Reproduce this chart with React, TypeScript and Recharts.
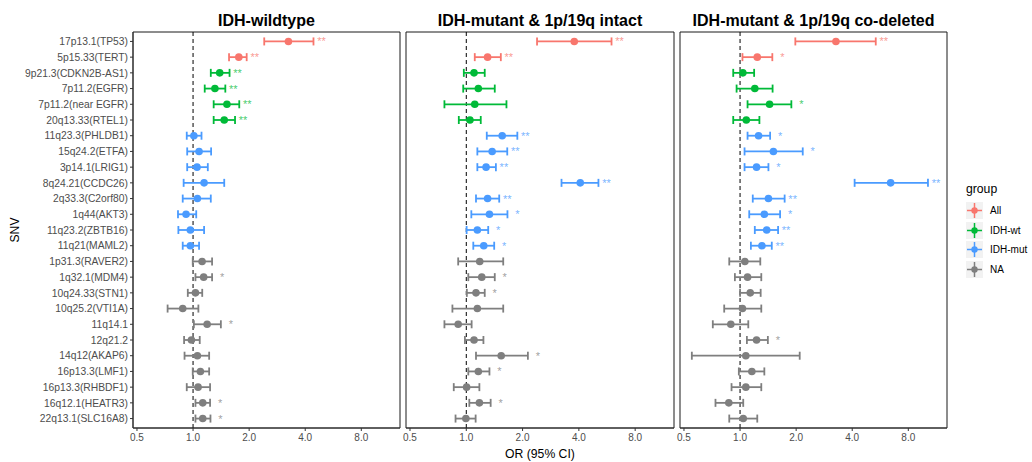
import { ErrorBar, ReferenceArea, ReferenceLine, Scatter, ScatterChart, XAxis, YAxis } from "recharts";

const snvs = [
  "17p13.1(TP53)", "5p15.33(TERT)", "9p21.3(CDKN2B-AS1)", "7p11.2(EGFR)", "7p11.2(near EGFR)",
  "20q13.33(RTEL1)", "11q23.3(PHLDB1)", "15q24.2(ETFA)", "3p14.1(LRIG1)", "8q24.21(CCDC26)",
  "2q33.3(C2orf80)", "1q44(AKT3)", "11q23.2(ZBTB16)", "11q21(MAML2)", "1p31.3(RAVER2)",
  "1q32.1(MDM4)", "10q24.33(STN1)", "10q25.2(VTI1A)", "11q14.1", "12q21.2",
  "14q12(AKAP6)", "16p13.3(LMF1)", "16p13.3(RHBDF1)", "16q12.1(HEATR3)", "22q13.1(SLC16A8)",
];

const rowGroup = [
  "All", "All", "IDH-wt", "IDH-wt", "IDH-wt", "IDH-wt",
  "IDH-mut", "IDH-mut", "IDH-mut", "IDH-mut", "IDH-mut", "IDH-mut", "IDH-mut", "IDH-mut",
  "NA", "NA", "NA", "NA", "NA", "NA", "NA", "NA", "NA", "NA", "NA",
];

const groupNames = ["All", "IDH-wt", "IDH-mut", "NA"];
const groupColors: Record<string, string> = {
  All: "#F8766D",
  "IDH-wt": "#00BA38",
  "IDH-mut": "#4A9BFF",
  NA: "#7F7F7F",
};

// IDH-wildtype
const wtOR = [3.25, 1.76, 1.39, 1.31, 1.52, 1.47, 1.01, 1.077, 1.05, 1.146, 1.055, 0.917, 0.967, 0.967, 1.118, 1.14, 1.03, 0.88, 1.19, 0.98, 1.055, 1.095, 1.064, 1.127, 1.127];
const wtLow = [2.41, 1.56, 1.245, 1.155, 1.29, 1.29, 0.925, 0.93, 0.93, 0.89, 0.88, 0.83, 0.834, 0.88, 0.996, 1.03, 0.937, 0.73, 1.01, 0.895, 0.9, 0.996, 0.925, 1.03, 1.03];
const wtHigh = [4.43, 1.94, 1.57, 1.49, 1.77, 1.68, 1.11, 1.25, 1.2, 1.47, 1.245, 1.04, 1.146, 1.077, 1.265, 1.265, 1.12, 1.068, 1.41, 1.086, 1.22, 1.22, 1.234, 1.234, 1.24];
const wtSig = ["**", "**", "**", "**", "**", "**", "", "", "", "", "", "", "", "", "", "*", "", "", "*", "", "", "", "", "*", "*"];

// IDH-mutant & 1p/19q intact
const intactOR = [3.78, 1.3, 1.1, 1.16, 1.11, 1.046, 1.556, 1.375, 1.276, 4.07, 1.3, 1.33, 1.146, 1.24, 1.18, 1.21, 1.127, 1.146, 0.905, 1.1, 1.537, 1.16, 1.004, 1.175, 0.995];
const intactLow = [2.39, 1.11, 0.97, 0.963, 0.764, 0.912, 1.287, 1.146, 1.146, 3.23, 1.127, 1.064, 1.004, 1.09, 0.905, 1.025, 1.007, 0.843, 0.764, 0.983, 1.127, 1.025, 0.857, 1.038, 0.876];
const intactHigh = [5.98, 1.53, 1.255, 1.42, 1.64, 1.195, 1.875, 1.656, 1.44, 5.09, 1.5, 1.66, 1.31, 1.41, 1.576, 1.42, 1.255, 1.576, 1.068, 1.235, 2.135, 1.33, 1.175, 1.35, 1.122];
const intactSig = ["**", "**", "", "", "", "", "**", "**", "**", "**", "**", "*", "*", "*", "", "*", "*", "", "", "", "*", "*", "", "*", ""];

// IDH-mutant & 1p/19q co-deleted
const codelOR = [3.27, 1.237, 1.035, 1.2, 1.44, 1.08, 1.257, 1.51, 1.226, 6.43, 1.42, 1.35, 1.39, 1.31, 1.061, 1.097, 1.134, 1.03, 0.892, 1.226, 1.074, 1.157, 1.074, 0.87, 1.04];
const codelLow = [1.98, 1.03, 0.919, 0.958, 1.097, 0.919, 1.097, 1.057, 1.057, 4.12, 1.17, 1.12, 1.2, 1.143, 0.875, 0.938, 1.0, 0.822, 0.714, 1.088, 0.551, 0.985, 0.9, 0.738, 0.875];
const codelHigh = [5.35, 1.49, 1.19, 1.495, 1.885, 1.27, 1.45, 2.17, 1.42, 10.2, 1.735, 1.64, 1.6, 1.48, 1.284, 1.3, 1.29, 1.3, 1.107, 1.41, 2.09, 1.35, 1.3, 1.04, 1.237];
const codelSig = ["**", "*", "", "", "*", "", "*", "*", "*", "**", "**", "*", "**", "**", "", "", "", "", "", "*", "", "", "", "", ""];

const xTicks = [0.5, 1, 2, 4, 8];

const xDomain = [-1.071, 3.69];
const yDomain = [-0.6, 24.6];
const tickColor = "#4D4D4D";
const font = "'Liberation Sans', Arial, sans-serif";

type Row = { y: number; x: number; err: [number, number]; hi: number; sig: string; group: string };

function buildRows(or: number[], low: number[], high: number[], sig: string[]): Row[] {
  return or.map((v, i) => ({
    y: i,
    x: Math.log2(v),
    err: [Math.log2(v) - Math.log2(low[i]), Math.log2(high[i]) - Math.log2(v)],
    hi: Math.log2(high[i]),
    sig: sig[i],
    group: rowGroup[i],
  }));
}

function Star(props: any) {
  const { cx, cy, payload } = props;
  if (!payload.sig) return <g />;
  const off = payload.sig.length === 2 ? 8 : 10;
  return (
    <text x={cx + off} y={cy + 4} textAnchor="middle" fontSize={11} fontFamily={font} fill={groupColors[payload.group]} fillOpacity={0.75}>
      {payload.sig}
    </text>
  );
}

function Panel({ rows, showY, width, marginLeft }: { rows: Row[]; showY: boolean; width: number; marginLeft: number }) {
  return (
    <ScatterChart width={width} height={462} margin={{ top: 32, right: 2, bottom: 4, left: marginLeft }}>
      <XAxis
        type="number"
        dataKey="x"
        domain={xDomain}
        allowDataOverflow
        ticks={xTicks.map((t) => Math.log2(t))}
        tickFormatter={(v: number) => Math.pow(2, v).toFixed(1)}
        tick={{ fontSize: 10, fill: tickColor, fontFamily: font }}
        tickSize={3}
        tickMargin={3}
        height={30}
        stroke="#333333"
      />
      <YAxis
        type="number"
        dataKey="y"
        domain={yDomain}
        allowDataOverflow
        reversed
        ticks={snvs.map((_, i) => i)}
        interval={0}
        tickFormatter={(v: number) => (showY ? snvs[v] : "")}
        tick={showY ? { fontSize: 10.3, fill: tickColor, fontFamily: font } : false}
        tickLine={showY}
        tickSize={3}
        tickMargin={2}
        width={showY ? 133 : 0}
        stroke="#333333"
      />
      <ReferenceArea x1={xDomain[0]} x2={xDomain[1]} y1={yDomain[0]} y2={yDomain[1]} fill="none" stroke="#1a1a1a" strokeWidth={1} ifOverflow="visible" />
      <ReferenceLine x={0} stroke="#000" strokeDasharray="4 3" strokeWidth={1} />
      {groupNames.map((g) => (
        <Scatter
          key={g}
          data={rows.filter((r) => r.group === g)}
          isAnimationActive={false}
          fill={groupColors[g]}
          shape={(p: any) => <circle cx={p.cx} cy={p.cy} r={3.8} fill={groupColors[g]} />}
        >
          <ErrorBar dataKey="err" direction="x" width={4} stroke={groupColors[g]} strokeWidth={1.8} isAnimationActive={false} />
        </Scatter>
      ))}
      <Scatter
        data={rows.map((r) => ({ ...r, x: r.hi }))}
        isAnimationActive={false}
        shape={(p: any) => <Star {...p} />}
      />
    </ScatterChart>
  );
}

function LegendKey({ color }: { color: string }) {
  return (
    <svg width={17} height={17} style={{ display: "block" }}>
      <rect x={0} y={0} width={17} height={17} fill="#F2F2F2" />
      <line x1={1} y1={8.5} x2={16} y2={8.5} stroke={color} strokeWidth={1.5} />
      <line x1={8.5} y1={1} x2={8.5} y2={16} stroke={color} strokeWidth={1.5} />
      <circle cx={8.5} cy={8.5} r={3.2} fill={color} />
    </svg>
  );
}

const titles = ["IDH-wildtype", "IDH-mutant & 1p/19q intact", "IDH-mutant & 1p/19q co-deleted"];
const titleCenters = [266.5, 540, 813.5];

export default function App() {
  const wtRows = buildRows(wtOR, wtLow, wtHigh, wtSig);
  const intactRows = buildRows(intactOR, intactLow, intactHigh, intactSig);
  const codelRows = buildRows(codelOR, codelLow, codelHigh, codelSig);

  return (
    <div style={{ position: "absolute", left: 0, top: 0, width: 1032, height: 462, background: "#fff", fontFamily: font }}>
      <div style={{ position: "absolute", left: 0, top: 0 }}>
        <Panel rows={wtRows} showY width={402} marginLeft={0} />
      </div>
      <div style={{ position: "absolute", left: 400, top: 0 }}>
        <Panel rows={intactRows} showY={false} width={276} marginLeft={6} />
      </div>
      <div style={{ position: "absolute", left: 674, top: 0 }}>
        <Panel rows={codelRows} showY={false} width={275} marginLeft={6} />
      </div>

      {titles.map((t, i) => (
        <div
          key={t}
          style={{ position: "absolute", left: titleCenters[i] - 200, width: 400, top: 11, textAlign: "center", fontSize: 16, fontWeight: "bold", color: "#000", lineHeight: "20px" }}
        >
          {t}
        </div>
      ))}

      <div style={{ position: "absolute", left: 440, width: 200, top: 446, textAlign: "center", fontSize: 12.2, color: "#000", lineHeight: "16px" }}>
        OR (95% CI)
      </div>
      <div
        style={{ position: "absolute", left: 15, top: 230, transform: "translate(-50%, -50%) rotate(-90deg)", fontSize: 12.2, color: "#000", whiteSpace: "nowrap" }}
      >
        SNV
      </div>

      <div style={{ position: "absolute", left: 966, top: 182 }}>
        <div style={{ fontSize: 12.2, color: "#000", marginBottom: 5, lineHeight: "14px" }}>group</div>
        {groupNames.map((g) => (
          <div key={g} style={{ display: "flex", alignItems: "center", height: 19.5 }}>
            <LegendKey color={groupColors[g]} />
            <span style={{ fontSize: 10, color: "#000", marginLeft: 7 }}>{g}</span>
          </div>
        ))}
      </div>
    </div>
  );
}
